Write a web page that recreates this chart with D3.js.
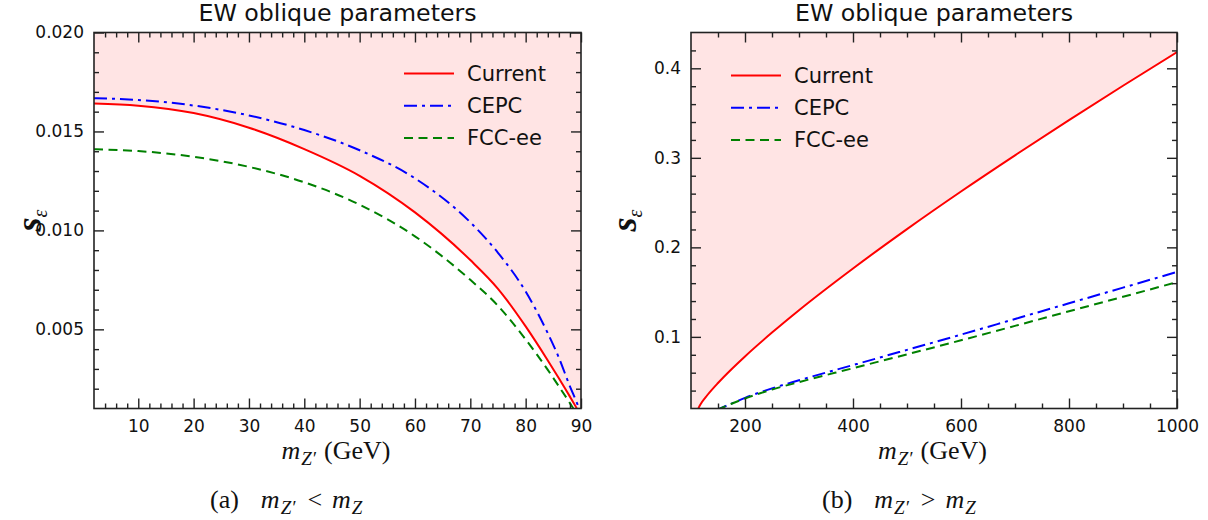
<!DOCTYPE html>
<html>
<head>
<meta charset="utf-8">
<script src="https://cdn.jsdelivr.net/npm/d3@7"></script>
<style>
  body { margin: 0; background: #fff; }
  svg { font-family: "DejaVu Sans", sans-serif; }
  .math { font-family: "Liberation Serif", "DejaVu Serif", serif; }
</style>
</head>
<body>
<svg id="chart" width="1208" height="520"></svg>
<script>
// panel (a): m_Z' below m_Z
const massLow = [2, 10, 20, 30, 40, 50, 60, 70, 75, 80, 84, 86, 88, 89, 90, 91];
const currentLow = [0.01641, 0.01630, 0.01593, 0.01519, 0.01411, 0.01276, 0.01091, 0.00850, 0.00705, 0.00515, 0.00343, 0.00253, 0.00160, 0.00112, 0.00061, 0.00010];
const cepcLow = [0.01668, 0.01659, 0.01631, 0.01581, 0.01507, 0.01405, 0.01263, 0.01041, 0.00887, 0.00691, 0.00480, 0.00357, 0.00212, 0.00146, 0.00078, 0.00012];
const fccLow = [0.01410, 0.01401, 0.01372, 0.01321, 0.01243, 0.01130, 0.00970, 0.00750, 0.00619, 0.00449, 0.00295, 0.00212, 0.00127, 0.00083, 0.00044, 0.00005];

// panel (b): m_Z' above m_Z
const massHigh = [100, 105, 110, 115, 120, 130, 150, 175, 200, 250, 300, 400, 500, 600, 700, 800, 900, 1000];
const currentHigh = [0.000, 0.0055, 0.0135, 0.0218, 0.0269, 0.0348, 0.0485, 0.0639, 0.0782, 0.1048, 0.1298, 0.1764, 0.2204, 0.2624, 0.3028, 0.3421, 0.3805, 0.4180];
const cepcHigh = [0.005, 0.0065, 0.008, 0.0095, 0.011, 0.0135, 0.0190, 0.0255, 0.0318, 0.0425, 0.0515, 0.0685, 0.0855, 0.1025, 0.1200, 0.1375, 0.1550, 0.1725];
const fccHigh = [0.005, 0.0065, 0.008, 0.0095, 0.011, 0.0135, 0.0190, 0.0253, 0.0312, 0.0412, 0.0495, 0.0650, 0.0805, 0.0962, 0.1123, 0.1286, 0.1448, 0.1612];

const seriesNames = ["Current", "CEPC", "FCC-ee"];
const seriesColors = ["#ff0000", "#0000ff", "#008000"];
const seriesDash = [null, "13,5,3,5", "9,5.5"];

const xTicksLow = [10, 20, 30, 40, 50, 60, 70, 80, 90];
const yTicksLow = [0.005, 0.010, 0.015, 0.020];
const xTicksHigh = [200, 400, 600, 800, 1000];
const yTicksHigh = [0.1, 0.2, 0.3, 0.4];

const svg = d3.select("#chart");

// m with a subscript, appended to a text element
function massSymbol(t, sub, size) {
    t.append("tspan").attr("font-style", "italic").text("m");
    t.append("tspan").attr("font-style", "italic").attr("font-size", size).attr("dx", 1).attr("dy", 6).text(sub);
}

function drawPanel(p) {
    let x = d3.scaleLinear().domain(p.xDomain).range([p.left, p.right]);
    let y = d3.scaleLinear().domain(p.yDomain).range([p.bottom, p.top]);

    svg.append("clipPath").attr("id", "clip-" + p.id)
        .append("rect")
        .attr("x", p.left).attr("y", p.top)
        .attr("width", p.right - p.left).attr("height", p.bottom - p.top);

    let g = svg.append("g").attr("clip-path", "url(#clip-" + p.id + ")");

    let rows = p.mass.map((m, i) => ({m: m, v: p.values.map(s => s[i])}));

    // excluded region above the current bound
    g.append("path")
        .datum(rows)
        .attr("fill", "#ffe4e4")
        .attr("d", d3.area()
            .x(d => x(d.m))
            .y0(y(p.yDomain[1]))
            .y1(d => y(d.v[0]))
            .curve(d3.curveMonotoneX));

    p.values.forEach(function(vals, k) {
        g.append("path")
            .datum(rows)
            .attr("fill", "none")
            .attr("stroke", seriesColors[k])
            .attr("stroke-width", 2)
            .attr("stroke-dasharray", seriesDash[k])
            .attr("d", d3.line()
                .x(d => x(d.m))
                .y(d => y(d.v[k]))
                .curve(d3.curveMonotoneX));
    });

    // ticks on all four sides, pointing in
    let axes = [
        [d3.axisBottom(x), "translate(0," + p.bottom + ")", p.xMajor, p.xMinor, p.xFormat, 11],
        [d3.axisTop(x), "translate(0," + p.top + ")", p.xMajor, p.xMinor, null, 0],
        [d3.axisLeft(y), "translate(" + p.left + ",0)", p.yMajor, p.yMinor, p.yFormat, 10],
        [d3.axisRight(y), "translate(" + p.right + ",0)", p.yMajor, p.yMinor, null, 0]
    ];
    axes.forEach(function(a) {
        let major = a[0].tickValues(a[2]).tickSize(-10).tickSizeOuter(0).tickPadding(a[5])
            .tickFormat(a[4] ? a[4] : "");
        let ga = svg.append("g").attr("transform", a[1]).call(major);
        ga.select(".domain").remove();
        ga.attr("font-family", "'DejaVu Sans', sans-serif").attr("font-size", 17);
        ga.selectAll("line").attr("stroke", "#222").attr("stroke-width", 1.4);
        ga.selectAll("text").attr("fill", "#111");

        let minor = a[0].tickValues(a[3]).tickSize(-5).tickFormat("");
        let gm = svg.append("g").attr("transform", a[1]).call(minor);
        gm.select(".domain").remove();
        gm.selectAll("line").attr("stroke", "#222").attr("stroke-width", 1.4);
    });

    svg.append("rect")
        .attr("x", p.left).attr("y", p.top)
        .attr("width", p.right - p.left).attr("height", p.bottom - p.top)
        .attr("fill", "none")
        .attr("stroke", "#222")
        .attr("stroke-width", 1.6);

    svg.append("text")
        .attr("x", (p.left + p.right) / 2).attr("y", 20.5)
        .attr("text-anchor", "middle")
        .attr("font-size", 23.7)
        .attr("fill", "#111")
        .text("EW oblique parameters");

    // legend
    seriesNames.forEach(function(name, k) {
        let ly = p.legendY + k * 32.3;
        svg.append("line")
            .attr("x1", p.legendX).attr("x2", p.legendX + 50)
            .attr("y1", ly).attr("y2", ly)
            .attr("stroke", seriesColors[k])
            .attr("stroke-width", 2)
            .attr("stroke-dasharray", seriesDash[k]);
        svg.append("text")
            .attr("x", p.legendX + 63).attr("y", ly)
            .attr("dominant-baseline", "central")
            .attr("font-size", 21)
            .attr("fill", "#111")
            .text(name);
    });

    // x label: m_Z' (GeV)
    let xl = svg.append("text").attr("class", "math")
        .attr("x", (p.left + p.right) / 2 - 56).attr("y", 459)
        .attr("font-size", 26)
        .attr("fill", "#111");
    massSymbol(xl, "Z′", 19);
    xl.append("tspan").attr("dx", 8).attr("dy", -6).text("(GeV)");

    // y label: s_epsilon
    let yl = svg.append("text").attr("class", "math")
        .attr("transform", "translate(" + p.yLabelX + "," + (p.top + p.bottom) / 2 + ") rotate(-90)")
        .attr("text-anchor", "middle")
        .attr("font-size", 36)
        .attr("font-weight", "bold")
        .attr("fill", "#111");
    yl.append("tspan").attr("font-style", "italic").text("s");
    yl.append("tspan").attr("font-style", "italic").attr("font-size", 20).attr("font-weight", "normal").attr("dy", 6).text("ε");

    // caption
    let cap = svg.append("text").attr("class", "math")
        .attr("x", p.captionX).attr("y", 508)
        .attr("font-size", 26)
        .attr("fill", "#111");
    cap.append("tspan").text(p.caption);
    cap.append("tspan").attr("dx", 22).attr("font-style", "italic").text("m");
    cap.append("tspan").attr("font-style", "italic").attr("font-size", 19).attr("dx", 1).attr("dy", 6).text("Z′");
    cap.append("tspan").attr("dx", 12).attr("dy", -6).text(p.relation);
    cap.append("tspan").attr("dx", 10).attr("font-style", "italic").text("m");
    cap.append("tspan").attr("font-style", "italic").attr("font-size", 19).attr("dx", 1).attr("dy", 6).text("Z");
}

drawPanel({
    id: "a",
    left: 94, right: 581, top: 32.5, bottom: 408.5,
    xDomain: [2, 90], yDomain: [0.001, 0.020],
    mass: massLow,
    values: [currentLow, cepcLow, fccLow],
    xMajor: xTicksLow,
    xMinor: d3.range(4, 90, 2).filter(v => v % 10 !== 0),
    yMajor: yTicksLow,
    yMinor: d3.range(2, 20).filter(k => k % 5 !== 0).map(k => k / 1000),
    xFormat: d3.format("d"),
    yFormat: d3.format(".3f"),
    legendX: 404, legendY: 73.5,
    yLabelX: 41,
    caption: "(a)", relation: "<", captionX: 210
});

drawPanel({
    id: "b",
    left: 691, right: 1177, top: 32.5, bottom: 408.5,
    xDomain: [100, 1000], yDomain: [0.02, 0.44],
    mass: massHigh,
    values: [currentHigh, cepcHigh, fccHigh],
    xMajor: xTicksHigh,
    xMinor: d3.range(150, 1000, 50).filter(v => v % 200 !== 0),
    yMajor: yTicksHigh,
    yMinor: d3.range(2, 22).filter(k => k % 5 !== 0).map(k => k * 0.02),
    xFormat: d3.format("d"),
    yFormat: d3.format(".1f"),
    legendX: 731, legendY: 75.5,
    yLabelX: 636,
    caption: "(b)", relation: ">", captionX: 822
});
</script>
</body>
</html>
